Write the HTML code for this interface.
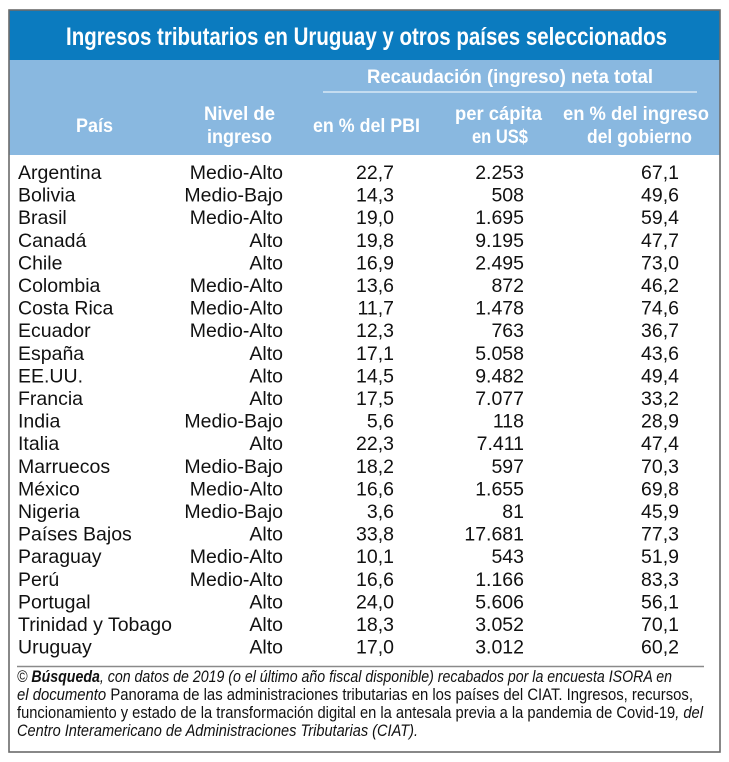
<!DOCTYPE html>
<html>
<head>
<meta charset="utf-8">
<style>
html,body{margin:0;padding:0;background:#fff;}
svg{display:block;}
text{font-family:"Liberation Sans",Arial,sans-serif;}
.h{fill:#fff;font-weight:bold;font-size:19.5px;}
.d{fill:#111;font-size:19.5px;}
.f{fill:#111;font-size:17px;}
</style>
</head>
<body>
<svg width="729" height="762" viewBox="0 0 729 762" xmlns="http://www.w3.org/2000/svg">
<rect x="0" y="0" width="729" height="762" fill="#fff"/>
<rect x="9" y="10" width="711" height="50" fill="#0b7bbf"/>
<rect x="9" y="60" width="711" height="95" fill="#89b8e0"/>
<rect x="9" y="10" width="711" height="742" fill="none" stroke="#6b6b6b" stroke-width="1.6"/>
<text x="66" y="45" fill="#fff" font-weight="bold" font-size="25" textLength="601" lengthAdjust="spacingAndGlyphs">Ingresos tributarios en Uruguay y otros países seleccionados</text>

<text class="h" x="367" y="83" textLength="286" lengthAdjust="spacingAndGlyphs">Recaudación (ingreso) neta total</text>
<line x1="323" y1="92" x2="697" y2="92" stroke="#fff" stroke-width="1"/>
<text class="h" x="76" y="132" textLength="37" lengthAdjust="spacingAndGlyphs">País</text>
<text class="h" x="204" y="120" textLength="71" lengthAdjust="spacingAndGlyphs">Nivel de</text>
<text class="h" x="207" y="143" textLength="65" lengthAdjust="spacingAndGlyphs">ingreso</text>
<text class="h" x="313" y="132" textLength="107" lengthAdjust="spacingAndGlyphs">en % del PBI</text>
<text class="h" x="455" y="120" textLength="87" lengthAdjust="spacingAndGlyphs">per cápita</text>
<text class="h" x="472" y="143" textLength="56" lengthAdjust="spacingAndGlyphs">en US$</text>
<text class="h" x="563" y="120" textLength="146" lengthAdjust="spacingAndGlyphs">en % del ingreso</text>
<text class="h" x="587" y="143" textLength="105" lengthAdjust="spacingAndGlyphs">del gobierno</text>

<g class="d">
<g transform="translate(0,179)"><text x="18" y="0">Argentina</text><text x="283" y="0" text-anchor="end">Medio-Alto</text><text x="394" y="0" text-anchor="end">22,7</text><text x="524" y="0" text-anchor="end">2.253</text><text x="679" y="0" text-anchor="end">67,1</text></g>
<g transform="translate(0,201.6)"><text x="18" y="0">Bolivia</text><text x="283" y="0" text-anchor="end">Medio-Bajo</text><text x="394" y="0" text-anchor="end">14,3</text><text x="524" y="0" text-anchor="end">508</text><text x="679" y="0" text-anchor="end">49,6</text></g>
<g transform="translate(0,224.2)"><text x="18" y="0">Brasil</text><text x="283" y="0" text-anchor="end">Medio-Alto</text><text x="394" y="0" text-anchor="end">19,0</text><text x="524" y="0" text-anchor="end">1.695</text><text x="679" y="0" text-anchor="end">59,4</text></g>
<g transform="translate(0,246.8)"><text x="18" y="0">Canadá</text><text x="283" y="0" text-anchor="end">Alto</text><text x="394" y="0" text-anchor="end">19,8</text><text x="524" y="0" text-anchor="end">9.195</text><text x="679" y="0" text-anchor="end">47,7</text></g>
<g transform="translate(0,269.4)"><text x="18" y="0">Chile</text><text x="283" y="0" text-anchor="end">Alto</text><text x="394" y="0" text-anchor="end">16,9</text><text x="524" y="0" text-anchor="end">2.495</text><text x="679" y="0" text-anchor="end">73,0</text></g>
<g transform="translate(0,292)"><text x="18" y="0">Colombia</text><text x="283" y="0" text-anchor="end">Medio-Alto</text><text x="394" y="0" text-anchor="end">13,6</text><text x="524" y="0" text-anchor="end">872</text><text x="679" y="0" text-anchor="end">46,2</text></g>
<g transform="translate(0,314.6)"><text x="18" y="0">Costa Rica</text><text x="283" y="0" text-anchor="end">Medio-Alto</text><text x="394" y="0" text-anchor="end">11,7</text><text x="524" y="0" text-anchor="end">1.478</text><text x="679" y="0" text-anchor="end">74,6</text></g>
<g transform="translate(0,337.2)"><text x="18" y="0">Ecuador</text><text x="283" y="0" text-anchor="end">Medio-Alto</text><text x="394" y="0" text-anchor="end">12,3</text><text x="524" y="0" text-anchor="end">763</text><text x="679" y="0" text-anchor="end">36,7</text></g>
<g transform="translate(0,359.8)"><text x="18" y="0">España</text><text x="283" y="0" text-anchor="end">Alto</text><text x="394" y="0" text-anchor="end">17,1</text><text x="524" y="0" text-anchor="end">5.058</text><text x="679" y="0" text-anchor="end">43,6</text></g>
<g transform="translate(0,382.4)"><text x="18" y="0">EE.UU.</text><text x="283" y="0" text-anchor="end">Alto</text><text x="394" y="0" text-anchor="end">14,5</text><text x="524" y="0" text-anchor="end">9.482</text><text x="679" y="0" text-anchor="end">49,4</text></g>
<g transform="translate(0,405)"><text x="18" y="0">Francia</text><text x="283" y="0" text-anchor="end">Alto</text><text x="394" y="0" text-anchor="end">17,5</text><text x="524" y="0" text-anchor="end">7.077</text><text x="679" y="0" text-anchor="end">33,2</text></g>
<g transform="translate(0,427.6)"><text x="18" y="0">India</text><text x="283" y="0" text-anchor="end">Medio-Bajo</text><text x="394" y="0" text-anchor="end">5,6</text><text x="524" y="0" text-anchor="end">118</text><text x="679" y="0" text-anchor="end">28,9</text></g>
<g transform="translate(0,450.2)"><text x="18" y="0">Italia</text><text x="283" y="0" text-anchor="end">Alto</text><text x="394" y="0" text-anchor="end">22,3</text><text x="524" y="0" text-anchor="end">7.411</text><text x="679" y="0" text-anchor="end">47,4</text></g>
<g transform="translate(0,472.8)"><text x="18" y="0">Marruecos</text><text x="283" y="0" text-anchor="end">Medio-Bajo</text><text x="394" y="0" text-anchor="end">18,2</text><text x="524" y="0" text-anchor="end">597</text><text x="679" y="0" text-anchor="end">70,3</text></g>
<g transform="translate(0,495.4)"><text x="18" y="0">México</text><text x="283" y="0" text-anchor="end">Medio-Alto</text><text x="394" y="0" text-anchor="end">16,6</text><text x="524" y="0" text-anchor="end">1.655</text><text x="679" y="0" text-anchor="end">69,8</text></g>
<g transform="translate(0,518)"><text x="18" y="0">Nigeria</text><text x="283" y="0" text-anchor="end">Medio-Bajo</text><text x="394" y="0" text-anchor="end">3,6</text><text x="524" y="0" text-anchor="end">81</text><text x="679" y="0" text-anchor="end">45,9</text></g>
<g transform="translate(0,540.6)"><text x="18" y="0">Países Bajos</text><text x="283" y="0" text-anchor="end">Alto</text><text x="394" y="0" text-anchor="end">33,8</text><text x="524" y="0" text-anchor="end">17.681</text><text x="679" y="0" text-anchor="end">77,3</text></g>
<g transform="translate(0,563.2)"><text x="18" y="0">Paraguay</text><text x="283" y="0" text-anchor="end">Medio-Alto</text><text x="394" y="0" text-anchor="end">10,1</text><text x="524" y="0" text-anchor="end">543</text><text x="679" y="0" text-anchor="end">51,9</text></g>
<g transform="translate(0,585.8)"><text x="18" y="0">Perú</text><text x="283" y="0" text-anchor="end">Medio-Alto</text><text x="394" y="0" text-anchor="end">16,6</text><text x="524" y="0" text-anchor="end">1.166</text><text x="679" y="0" text-anchor="end">83,3</text></g>
<g transform="translate(0,608.4)"><text x="18" y="0">Portugal</text><text x="283" y="0" text-anchor="end">Alto</text><text x="394" y="0" text-anchor="end">24,0</text><text x="524" y="0" text-anchor="end">5.606</text><text x="679" y="0" text-anchor="end">56,1</text></g>
<g transform="translate(0,631)"><text x="18" y="0">Trinidad y Tobago</text><text x="283" y="0" text-anchor="end">Alto</text><text x="394" y="0" text-anchor="end">18,3</text><text x="524" y="0" text-anchor="end">3.052</text><text x="679" y="0" text-anchor="end">70,1</text></g>
<g transform="translate(0,653.6)"><text x="18" y="0">Uruguay</text><text x="283" y="0" text-anchor="end">Alto</text><text x="394" y="0" text-anchor="end">17,0</text><text x="524" y="0" text-anchor="end">3.012</text><text x="679" y="0" text-anchor="end">60,2</text></g>
</g>

<line x1="17" y1="666.5" x2="704" y2="666.5" stroke="#8a8a8a" stroke-width="1.5"/>

<text class="f" x="17" y="682" textLength="655" lengthAdjust="spacingAndGlyphs" font-style="italic">© <tspan font-weight="bold">Búsqueda</tspan>, con datos de 2019 (o el último año fiscal disponible) recabados por la encuesta ISORA en</text>
<text class="f" x="17" y="700" textLength="676" lengthAdjust="spacingAndGlyphs"><tspan font-style="italic">el documento</tspan> Panorama de las administraciones tributarias en los países del CIAT. Ingresos, recursos,</text>
<text class="f" x="17" y="718" textLength="686" lengthAdjust="spacingAndGlyphs">funcionamiento y estado de la transformación digital en la antesala previa a la pandemia de Covid-19<tspan font-style="italic">, del</tspan></text>
<text class="f" x="17" y="736" textLength="401" lengthAdjust="spacingAndGlyphs" font-style="italic">Centro Interamericano de Administraciones Tributarias (CIAT).</text>
</svg>
</body>
</html>
